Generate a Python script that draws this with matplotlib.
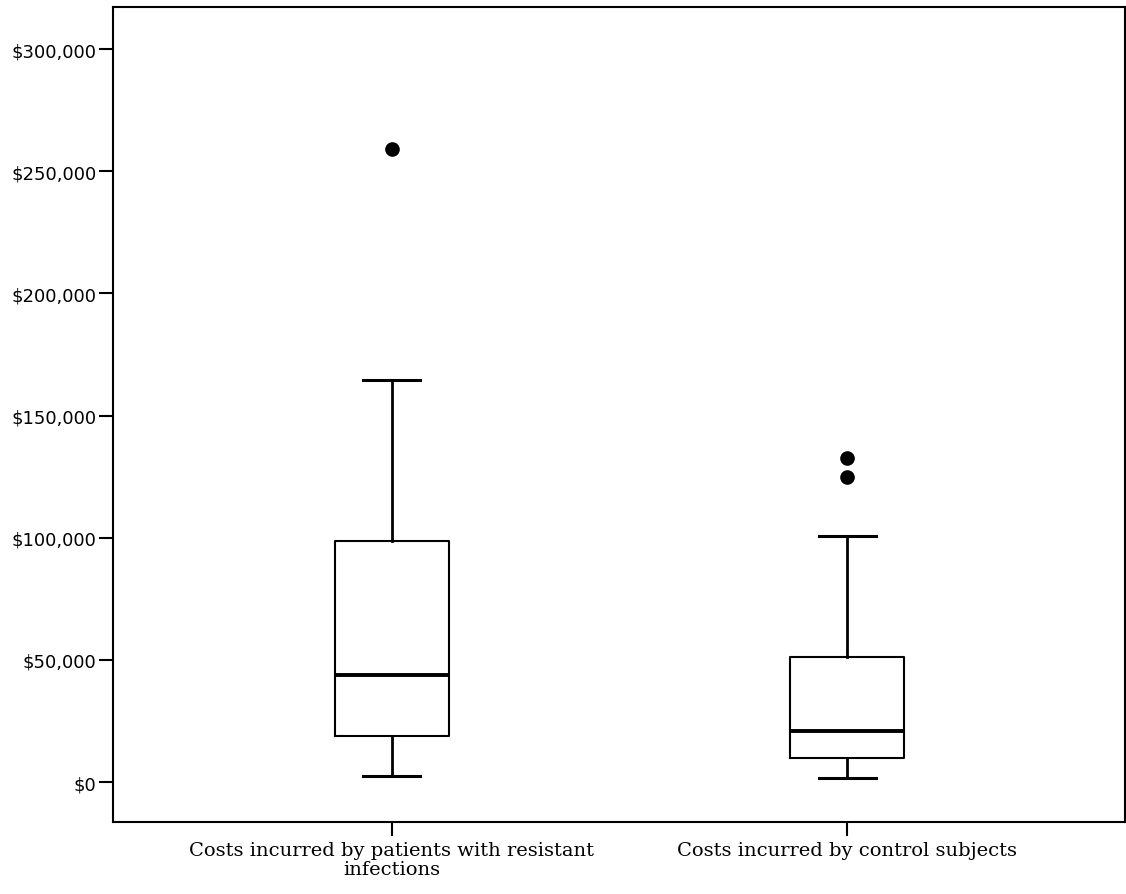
import matplotlib
matplotlib.use("Agg")
import matplotlib.pyplot as plt
from matplotlib.ticker import FuncFormatter

groups = ["Costs incurred by patients with resistant\ninfections",
          "Costs incurred by control subjects"]
whisker_low = [2500, 1500]
q1 = [19000, 10000]
medians = [44000, 21000]
q3 = [98500, 51000]
whisker_high = [164500, 100500]
outliers = [[259000], [125000, 132500]]
y_ticks = [0, 50000, 100000, 150000, 200000, 250000, 300000]

stats = []
for i in range(len(groups)):
    stats.append({
        "whislo": whisker_low[i], "q1": q1[i], "med": medians[i],
        "q3": q3[i], "whishi": whisker_high[i], "fliers": outliers[i],
    })

fig = plt.figure(figsize=(11.26, 8.95), dpi=100)
ax = fig.add_axes([0.1004, 0.0804, 0.8987, 0.9106])

ax.bxp(stats, positions=[1, 2], widths=0.25, capwidths=0.125, showfliers=True,
       boxprops=dict(color="black", linewidth=1.5),
       medianprops=dict(color="black", linewidth=2.8),
       whiskerprops=dict(color="black", linewidth=2.0),
       capprops=dict(color="black", linewidth=2.2),
       flierprops=dict(marker="o", markerfacecolor="black", markeredgecolor="black",
                       markersize=9.5, linestyle="none"))

ax.set_xlim(0.388, 2.61)
ax.set_ylim(-16371, 317190)
ax.set_xticks([1, 2])
ax.set_xticklabels(groups, family="DejaVu Serif", fontsize=14, linespacing=1.05)
ax.set_yticks(y_ticks)
ax.yaxis.set_major_formatter(FuncFormatter(lambda v, p: "${:,.0f}".format(v)))
for lab in ax.get_yticklabels():
    lab.set_family("DejaVu Sans")
    lab.set_fontsize(13)

for s in ax.spines.values():
    s.set_linewidth(1.5)
    s.set_color("black")
ax.tick_params(axis="both", length=10, width=1.5, color="black", pad=2)
ax.tick_params(axis="x", pad=4)

fig.savefig("out.png", dpi=100)
